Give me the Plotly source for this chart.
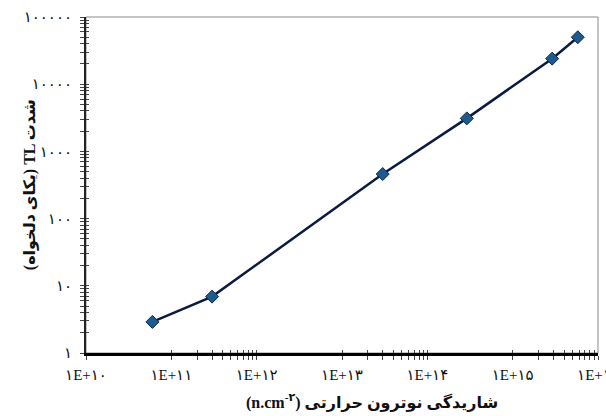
import plotly.graph_objects as go

# ---- data ----
fluence = [6.0e10, 3.0e11, 3.0e13, 2.9e14, 2.9e15, 5.8e15]
tl_intensity = [2.9, 6.9, 460, 3100, 24000, 50000]

fa = str.maketrans("0123456789", "۰۱۲۳۴۵۶۷۸۹")

x_major = [1e10, 1e11, 1e12, 1e13, 1e14, 1e15, 1e16]
x_labels = [("1E+%d" % e).translate(fa) for e in range(10, 17)]
x_minor = [m * 10 ** d for d in (11, 13, 15) for m in range(2, 10)]

y_major = [1, 10, 100, 1000, 10000, 100000]
y_labels = [str(v).translate(fa) for v in y_major]
y_minor = [m * 10 ** d for d in range(0, 5) for m in range(2, 10)]

x_tickvals = x_major + x_minor
x_ticktext = x_labels + [""] * len(x_minor)
y_tickvals = y_major + y_minor
y_ticktext = y_labels + [""] * len(y_minor)

x_title = "(n.cm<sup>-۲</sup>) شاریدگی نوترون حرارتی"
y_title = "(یکای دلخواه) TL شدت"

serif = "Liberation Serif, Times New Roman, DejaVu Sans, serif"

fig = go.Figure()
fig.add_trace(go.Scatter(
    x=fluence, y=tl_intensity, mode="lines+markers",
    line=dict(color="#0B1A40", width=2.5),
    marker=dict(symbol="diamond", size=10, color="#1F5A8C",
                line=dict(color="#0B2A55", width=1)),
    hoverinfo="x+y", showlegend=False,
))
# invisible helper trace for the overlay axes (inside half of crossing ticks)
fig.add_trace(go.Scatter(
    x=fluence, y=tl_intensity, mode="markers", xaxis="x2", yaxis="y2",
    marker=dict(opacity=0), hoverinfo="skip", showlegend=False,
))

fig.update_layout(
    width=606, height=416,
    margin=dict(l=86, r=8, t=17, b=63),
    paper_bgcolor="white", plot_bgcolor="white",
    font=dict(family=serif, color="#111", size=12),
    xaxis=dict(
        type="log", range=[10, 16], automargin=False,
        tickmode="array", tickvals=x_tickvals, ticktext=x_ticktext,
        ticks="outside", ticklen=4, tickwidth=1.2, tickcolor="#444",
        showgrid=False, zeroline=False,
        showline=True, linecolor="#000", linewidth=3,
        tickfont=dict(family=serif, size=15, color="#111"),
        ticklabelstandoff=2, ticklabeloverflow="allow",
    ),
    yaxis=dict(
        type="log", range=[0, 5], automargin=False,
        tickmode="array", tickvals=y_tickvals, ticktext=y_ticktext,
        ticks="outside", ticklen=4, tickwidth=1.2, tickcolor="#444",
        showgrid=False, zeroline=False,
        showline=True, linecolor="#222", linewidth=2,
        tickfont=dict(family=serif, size=15, color="#111"),
        ticklabelstandoff=5, ticklabeloverflow="allow",
    ),
    xaxis2=dict(
        type="log", range=[10, 16], overlaying="x", side="bottom", automargin=False,
        tickmode="array", tickvals=x_tickvals, showticklabels=False,
        ticks="inside", ticklen=3, tickwidth=1.2, tickcolor="#444",
        showgrid=False, zeroline=False, showline=False,
    ),
    yaxis2=dict(
        type="log", range=[0, 5], overlaying="y", side="left", automargin=False,
        tickmode="array", tickvals=y_tickvals, showticklabels=False,
        ticks="inside", ticklen=3, tickwidth=1.2, tickcolor="#444",
        showgrid=False, zeroline=False, showline=False,
    ),
    shapes=[dict(type="rect", xref="paper", yref="paper", x0=0, x1=1, y0=0, y1=1,
                 line=dict(color="#8a8a8a", width=1), layer="below")],
    annotations=[
        dict(text=x_title, xref="paper", yref="paper", x=0.559, y=-0.143,
             xanchor="center", yanchor="middle", showarrow=False,
             font=dict(family=serif, size=16, color="#111", weight="bold")),
        dict(text=y_title, xref="paper", yref="paper", x=-0.109, y=0.5,
             xanchor="center", yanchor="middle", showarrow=False, textangle=-90,
             font=dict(family=serif, size=16, color="#111", weight="bold")),
    ],
)

fig.write_html("out.html", config={"displayModeBar": False},
               post_script="document.body.style.margin='0';")
